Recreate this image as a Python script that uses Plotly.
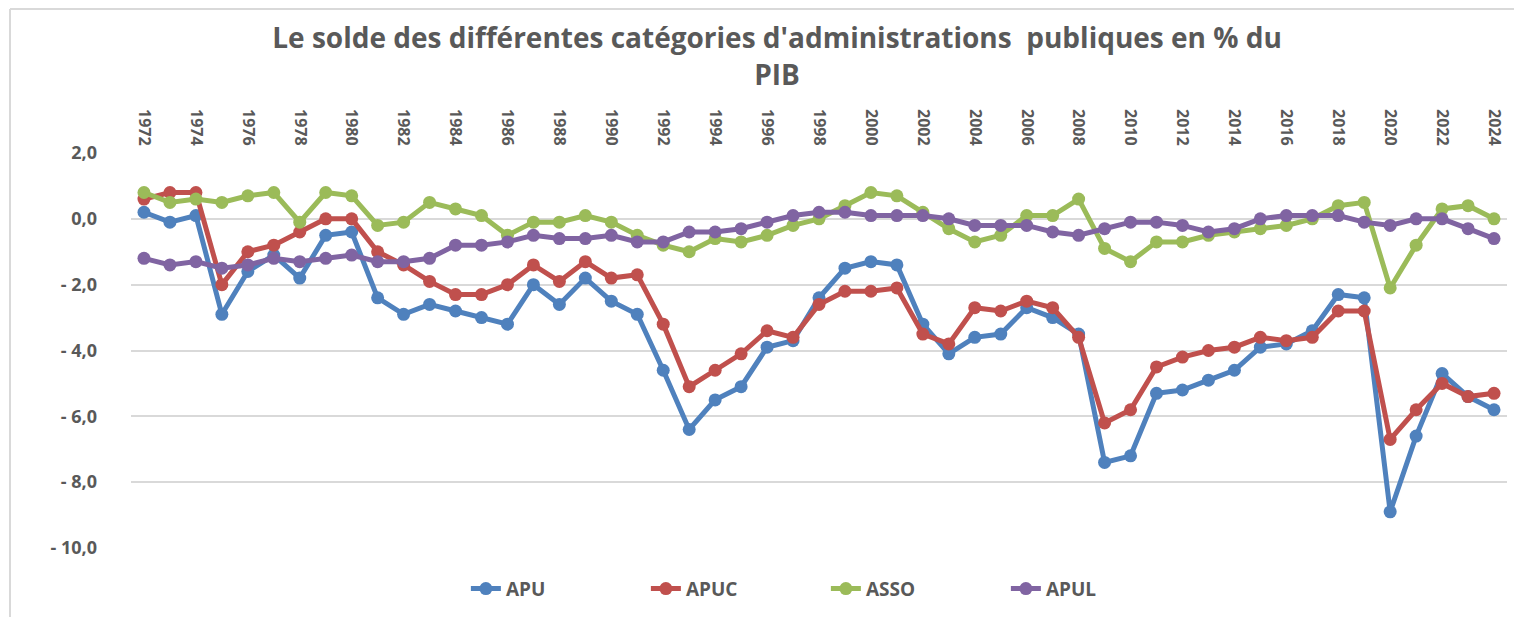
import plotly.graph_objects as go

years = list(range(1972, 2025))

apu = [0.2, -0.1, 0.1, -2.9, -1.6, -1.1, -1.8, -0.5, -0.4, -2.4,
       -2.9, -2.6, -2.8, -3.0, -3.2, -2.0, -2.6, -1.8, -2.5, -2.9,
       -4.6, -6.4, -5.5, -5.1, -3.9, -3.7, -2.4, -1.5, -1.3, -1.4,
       -3.2, -4.1, -3.6, -3.5, -2.7, -3.0, -3.5, -7.4, -7.2, -5.3,
       -5.2, -4.9, -4.6, -3.9, -3.8, -3.4, -2.3, -2.4, -8.9, -6.6,
       -4.7, -5.4, -5.8]
apuc = [0.6, 0.8, 0.8, -2.0, -1.0, -0.8, -0.4, 0.0, 0.0, -1.0,
        -1.4, -1.9, -2.3, -2.3, -2.0, -1.4, -1.9, -1.3, -1.8, -1.7,
        -3.2, -5.1, -4.6, -4.1, -3.4, -3.6, -2.6, -2.2, -2.2, -2.1,
        -3.5, -3.8, -2.7, -2.8, -2.5, -2.7, -3.6, -6.2, -5.8, -4.5,
        -4.2, -4.0, -3.9, -3.6, -3.7, -3.6, -2.8, -2.8, -6.7, -5.8,
        -5.0, -5.4, -5.3]
asso = [0.8, 0.5, 0.6, 0.5, 0.7, 0.8, -0.1, 0.8, 0.7, -0.2,
        -0.1, 0.5, 0.3, 0.1, -0.5, -0.1, -0.1, 0.1, -0.1, -0.5,
        -0.8, -1.0, -0.6, -0.7, -0.5, -0.2, 0.0, 0.4, 0.8, 0.7,
        0.2, -0.3, -0.7, -0.5, 0.1, 0.1, 0.6, -0.9, -1.3, -0.7,
        -0.7, -0.5, -0.4, -0.3, -0.2, 0.0, 0.4, 0.5, -2.1, -0.8,
        0.3, 0.4, 0.0]
apul = [-1.2, -1.4, -1.3, -1.5, -1.4, -1.2, -1.3, -1.2, -1.1, -1.3,
        -1.3, -1.2, -0.8, -0.8, -0.7, -0.5, -0.6, -0.6, -0.5, -0.7,
        -0.7, -0.4, -0.4, -0.3, -0.1, 0.1, 0.2, 0.2, 0.1, 0.1,
        0.1, 0.0, -0.2, -0.2, -0.2, -0.4, -0.5, -0.3, -0.1, -0.1,
        -0.2, -0.4, -0.3, 0.0, 0.1, 0.1, 0.1, -0.1, -0.2, 0.0,
        0.0, -0.3, -0.6]

series_names = ["APU", "APUC", "ASSO", "APUL"]
series_values = [apu, apuc, asso, apul]
colors = ["#4F81BD", "#C0504D", "#9BBB59", "#8064A2"]

y_tick_vals = [2, 0, -2, -4, -6, -8, -10]
y_tick_text = ["2,0", "0,0", "- 2,0", "- 4,0", "- 6,0", "- 8,0", "- 10,0"]
x_tick_vals = list(range(1972, 2025, 2))

fig = go.Figure()
for name, vals, col in zip(series_names, series_values, colors):
    fig.add_trace(go.Scatter(
        x=years, y=vals, name=name, mode="lines+markers",
        line=dict(color=col, width=5),
        marker=dict(color=col, size=13),
    ))

grey = "#595959"
fig.update_layout(
    width=1522, height=617,
    paper_bgcolor="white", plot_bgcolor="white",
    margin=dict(l=123, r=23, t=145, b=77, autoexpand=False),
    title=dict(
        text="Le solde des différentes catégories d'administrations  publiques en % du<br>PIB",
        x=0.5053, xanchor="center", xref="container",
        y=0.935, yanchor="top", yref="container",
        font=dict(family="Open Sans", size=28, color=grey, weight="bold"),
    ),
    showlegend=True,
    legend=dict(
        orientation="h", x=0.505, xanchor="center", y=-0.055, yanchor="top",
        font=dict(family="Open Sans", size=19, color=grey, weight="bold"),
        entrywidth=135, entrywidthmode="pixels",
    ),
    xaxis=dict(
        side="top", range=[1971.5, 2024.5], tickvals=x_tick_vals,
        tickangle=90, showgrid=False, zeroline=False, showline=False,
        ticks="", ticklabelstandoff=4, automargin=False,
        tickfont=dict(family="Open Sans", size=16, color=grey, weight="bold"),
    ),
    yaxis=dict(
        range=[-10, 2], tickvals=y_tick_vals, ticktext=y_tick_text,
        showgrid=True, gridcolor="#D9D9D9", gridwidth=1.5,
        zeroline=False, showline=False, ticks="", ticklabelstandoff=33,
        automargin=False,
        tickfont=dict(family="Open Sans", size=18, color=grey, weight="bold"),
    ),
    shapes=[
        dict(type="line", xref="paper", yref="paper",
             x0=(2 - 123) / 1376, x1=1.1, y0=(540 - 1) / 395, y1=(540 - 1) / 395,
             line=dict(color="#D9D9D9", width=2)),
        dict(type="line", xref="paper", yref="paper",
             x0=(2 - 123) / 1376, x1=(2 - 123) / 1376, y0=-0.3, y1=(540 - 1) / 395,
             line=dict(color="#D9D9D9", width=2)),
    ],
)

fig.write_html("out.html")
